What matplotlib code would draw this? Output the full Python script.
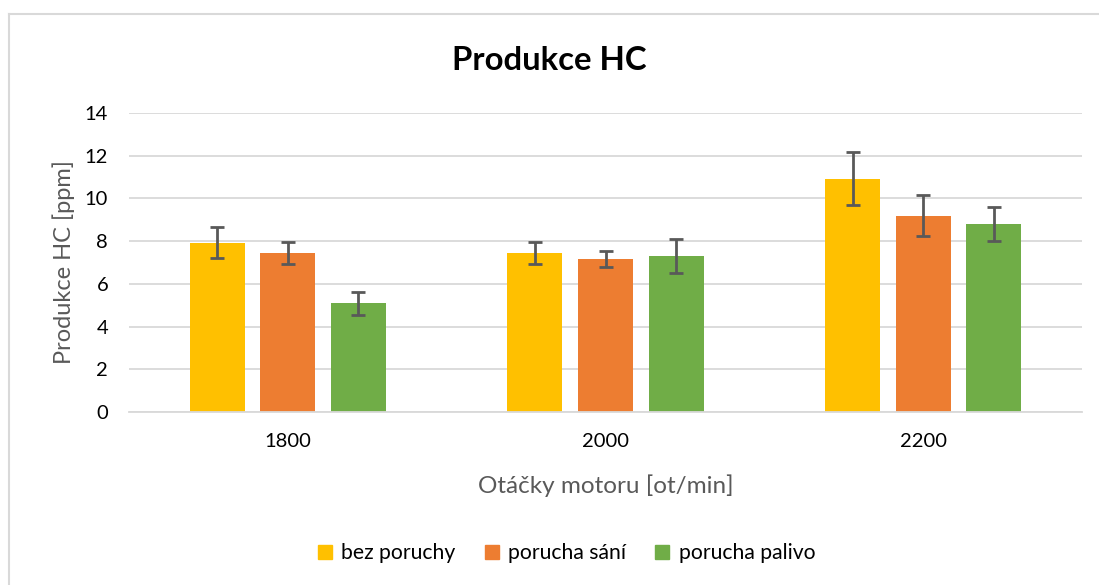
import numpy as np
import matplotlib
matplotlib.use('Agg')
import matplotlib.pyplot as plt
from matplotlib.lines import Line2D

plt.rcParams['font.family'] = ['Lato', 'DejaVu Sans']

categories = ['1800', '2000', '2200']
series = ['bez poruchy', 'porucha sání', 'porucha palivo']
values = [
    [7.93, 7.44, 10.92],   # bez poruchy
    [7.44, 7.16, 9.19],    # porucha sání
    [5.09, 7.29, 8.80],    # porucha palivo
]
errors = [
    [0.74, 0.51, 1.25],
    [0.51, 0.38, 0.96],
    [0.55, 0.80, 0.78],
]
colors = ['#FFC000', '#ED7D31', '#70AD47']

fig = plt.figure(figsize=(10.99, 5.85), dpi=100)
ax = fig.add_axes([129/1099, 1-412/585, (1082-129)/1099, (412-113)/585])

x = np.arange(len(categories))
w = 0.173
step = 0.222
for i, (name, vals, errs, c) in enumerate(zip(series, values, errors, colors)):
    ax.bar(x + (i-1)*step, vals, w, color=c, label=name, zorder=2,
           yerr=errs, error_kw=dict(ecolor='#595959', elinewidth=2, capsize=5, capthick=2))

ax.set_xlim(-0.5, 2.5)
ax.set_ylim(0, 14)
ax.set_yticks(range(0, 15, 2))
ax.set_xticks(x)
ax.set_xticklabels(categories)
ax.grid(axis='y', color='#D9D9D9', linewidth=1.3, zorder=0)
ax.tick_params(length=0, labelsize=14.5, colors='#000000')
ax.tick_params(axis='y', pad=15)
ax.tick_params(axis='x', pad=15)
for s in ['left', 'right', 'top']:
    ax.spines[s].set_visible(False)
ax.spines['bottom'].set_color('#D9D9D9')
ax.spines['bottom'].set_linewidth(1.3)

ax.set_ylabel('Produkce HC [ppm]', fontsize=17, color='#595959', labelpad=7)
ax.set_xlabel('Otáčky motoru [ot/min]', fontsize=17.5, color='#595959', labelpad=18)
fig.text(0.5, 1-60/585, 'Produkce HC', ha='center', va='center', fontsize=23.7, fontweight='bold')

handles = [Line2D([], [], marker='s', linestyle='', markersize=9.5, color=c) for c in colors]
fig.legend(handles, series, loc='center', bbox_to_anchor=(0.514, 1-553/585), ncol=3,
           frameon=False, fontsize=15.2, handletextpad=0.3, columnspacing=1.2,
           handlelength=1.0)

# chart border
fig.add_artist(Line2D([9/1099, 1], [1-14/585, 1-14/585], color='#D9D9D9', linewidth=1.5))
fig.add_artist(Line2D([9/1099, 9/1099], [0, 1-14/585], color='#D9D9D9', linewidth=1.5))

fig.savefig('out.png', dpi=100)
